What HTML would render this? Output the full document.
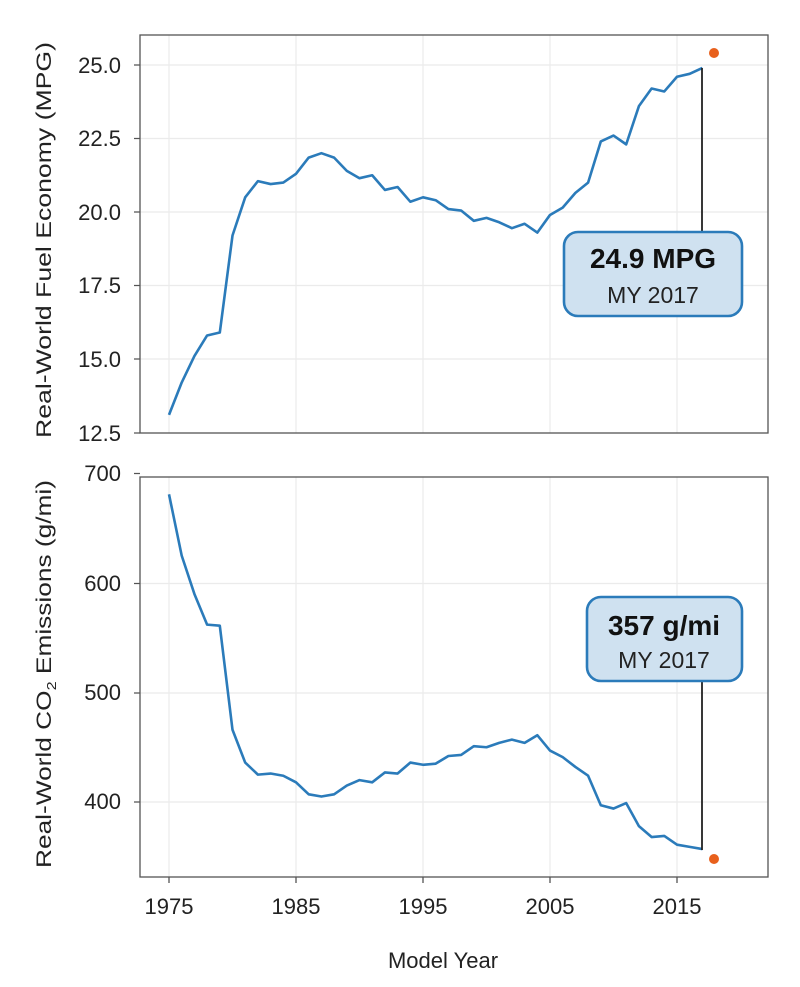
<!DOCTYPE html>
<html><head><meta charset="utf-8"><style>body{margin:0;background:#fff}svg{display:block;font-family:"Liberation Sans",Arial,sans-serif}</style></head><body>
<svg width="800" height="987" viewBox="0 0 800 987">
<rect width="800" height="987" fill="#fff"/>
<g stroke="#ebebeb" stroke-width="1.2">
<line x1="169" y1="35" x2="169" y2="433"/><line x1="296" y1="35" x2="296" y2="433"/><line x1="423" y1="35" x2="423" y2="433"/><line x1="550" y1="35" x2="550" y2="433"/><line x1="677" y1="35" x2="677" y2="433"/>
<line x1="140" y1="65" x2="768" y2="65"/><line x1="140" y1="138.5" x2="768" y2="138.5"/><line x1="140" y1="212" x2="768" y2="212"/><line x1="140" y1="285.5" x2="768" y2="285.5"/><line x1="140" y1="359" x2="768" y2="359"/>
<line x1="169" y1="477" x2="169" y2="877"/><line x1="296" y1="477" x2="296" y2="877"/><line x1="423" y1="477" x2="423" y2="877"/><line x1="550" y1="477" x2="550" y2="877"/><line x1="677" y1="477" x2="677" y2="877"/>
<line x1="140" y1="583.5" x2="768" y2="583.5"/><line x1="140" y1="693" x2="768" y2="693"/><line x1="140" y1="802" x2="768" y2="802"/>
</g>
<g stroke="#555" stroke-width="1.3" fill="none">
<rect x="140" y="35" width="628" height="398"/>
<rect x="140" y="477" width="628" height="400"/>
<path d="M134 65h6M134 138.5h6M134 212h6M134 285.5h6M134 359h6M134 433h6M134 473.5h6M134 583.5h6M134 693h6M134 802h6M169 877v6M296 877v6M423 877v6M550 877v6M677 877v6"/>
</g>
<polyline fill="none" stroke="#2b7bba" stroke-width="2.6" stroke-linejoin="round" vector-effect="non-scaling-stroke" transform="matrix(12.7 0 0 -29.4 169 800)" points="0,13.1 1,14.2 2,15.1 3,15.8 4,15.9 5,19.2 6,20.5 7,21.05 8,20.95 9,21.0 10,21.3 11,21.85 12,22.0 13,21.85 14,21.4 15,21.15 16,21.25 17,20.75 18,20.85 19,20.35 20,20.5 21,20.4 22,20.1 23,20.05 24,19.7 25,19.8 26,19.65 27,19.45 28,19.6 29,19.3 30,19.9 31,20.15 32,20.65 33,21.0 34,22.4 35,22.6 36,22.3 37,23.6 38,24.2 39,24.1 40,24.6 41,24.7 42,24.9"/>
<polyline fill="none" stroke="#2b7bba" stroke-width="2.6" stroke-linejoin="round" vector-effect="non-scaling-stroke" transform="matrix(12.7 0 0 -1.095 169 1240)" points="0,681 1,625 2,590 3,562 4,561 5,466 6,436 7,425 8,426 9,424 10,418 11,407 12,405 13,407 14,415 15,420 16,418 17,427 18,426 19,436 20,434 21,435 22,442 23,443 24,451 25,450 26,454 27,457 28,454 29,461 30,447 31,441 32,432 33,424 34,397 35,394 36,399 37,378 38,368 39,369 40,361 41,359 42,357"/>
<line x1="702" y1="68" x2="702" y2="232" stroke="#222" stroke-width="1.8"/>
<line x1="702" y1="681" x2="702" y2="850" stroke="#222" stroke-width="1.8"/>
<circle cx="714" cy="53" r="5" fill="#e8601c"/>
<circle cx="714" cy="859" r="5" fill="#e8601c"/>
<rect x="564" y="232" width="178" height="84" rx="14" fill="#cfe1f0" stroke="#2b7bba" stroke-width="2.6"/>
<text x="653" y="268" text-anchor="middle" font-size="28" font-weight="bold" fill="#111">24.9 MPG</text>
<text x="653" y="303" text-anchor="middle" font-size="23" fill="#222">MY 2017</text>
<rect x="587" y="597" width="155" height="84" rx="14" fill="#cfe1f0" stroke="#2b7bba" stroke-width="2.6"/>
<text x="664" y="635" text-anchor="middle" font-size="28" font-weight="bold" fill="#111">357 g/mi</text>
<text x="664" y="668" text-anchor="middle" font-size="23" fill="#222">MY 2017</text>
<g font-size="22" fill="#222" text-anchor="end">
<text x="121" y="73">25.0</text><text x="121" y="146">22.5</text><text x="121" y="220">20.0</text><text x="121" y="293">17.5</text><text x="121" y="367">15.0</text><text x="121" y="441">12.5</text>
<text x="121" y="481">700</text><text x="121" y="591">600</text><text x="121" y="700">500</text><text x="121" y="809">400</text>
</g>
<g font-size="22" fill="#222" text-anchor="middle">
<text x="169" y="914">1975</text><text x="296" y="914">1985</text><text x="423" y="914">1995</text><text x="550" y="914">2005</text><text x="677" y="914">2015</text>
<text x="443" y="968">Model Year</text>
</g>
<text transform="translate(51 240) rotate(-90)" text-anchor="middle" font-size="21" fill="#222" textLength="396" lengthAdjust="spacingAndGlyphs">Real-World Fuel Economy (MPG)</text>
<text transform="translate(51 674) rotate(-90)" text-anchor="middle" font-size="21" fill="#222" textLength="388" lengthAdjust="spacingAndGlyphs">Real-World CO<tspan font-size="13" dy="5">2</tspan><tspan dy="-5"> Emissions (g/mi)</tspan></text>
</svg>
</body></html>
